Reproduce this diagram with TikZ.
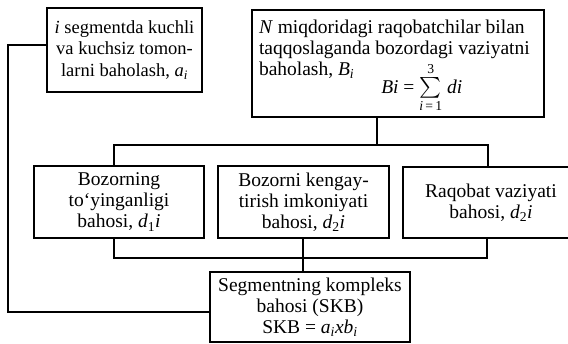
\documentclass[tikz,border=0pt]{standalone}
\usepackage{amsmath}
\usepackage{fontspec}
\setmainfont{Liberation Serif}
\usetikzlibrary{positioning,calc}

\begin{document}
\begin{tikzpicture}[
    x=1pt, y=-1pt,
    font=\fontsize{19.5pt}{21pt}\selectfont,
    blackline/.style={-, draw=black, line width=2pt},
    segbox/.style={draw, rectangle, line width=2pt, inner sep=0pt, align=center, minimum width=155pt, minimum height=84pt, font=\fontsize{18.5pt}{21.5pt}\selectfont},
    marketbox/.style={draw, rectangle, line width=2pt, inner sep=0pt, minimum width=292pt, minimum height=107pt},
    midbox/.style={draw, rectangle, line width=2pt, inner sep=0pt, align=center, minimum height=72pt}
]
\useasboundingbox (0,0) rectangle (568,343);

% top row
\node[segbox]    (segment) at (124.5,50) {\textit{i} segmentda kuchli\\va kuchsiz tomon-\\larni baholash, \textit{a}\textsubscript{\textit{i}}};
\node[marketbox] (market)  at (398,63.5) {\parbox[c][88pt][t]{278pt}{\raggedright
\textit{N} miqdoridagi raqobatchilar bilan\\
taqqoslaganda bozordagi vaziyatni\\
baholash, \textit{B}\textsubscript{\textit{i}}\hspace*{27pt}\smash{\raisebox{-18pt}{\textit{Bi} = $\sum\limits_{\text{\textit{i}\,=\,1}}^{\text{3}}$ \textit{di}}}}};

% middle row
\node[midbox, minimum width=170pt] (saturation) at (119,202)   {Bozorning\\to‘yinganligi\\bahosi, \textit{d}\textsubscript{1}\textit{i}};
\node[midbox, minimum width=171pt] (expansion)  at (303.5,202) {Bozorni kengay-\\tirish imkoniyati\\bahosi, \textit{d}\textsubscript{2}\textit{i}};
\node[midbox, minimum width=176pt, minimum height=71pt] (rivalry) at (491,202.5) {Raqobat vaziyati\\bahosi, \textit{d}\textsubscript{2}\textit{i}};

% bottom
\node[midbox, minimum width=200pt, minimum height=70pt] (complex) at (310,307) {Segmentning kompleks\\bahosi (SKB)\\SKB = \textit{a}\textsubscript{\textit{i}}\textit{xb}\textsubscript{\textit{i}}};

% market -> saturation, rivalry
\coordinate (top_mid)   at (377,145);
\coordinate (top_left)  at (114,145);
\coordinate (top_right) at (488,145);
\draw[blackline] (market.south -| top_mid) -- (top_mid);
\draw[blackline] (saturation.north -| top_left) -- (top_left) -- (top_right) -- (rivalry.north -| top_right);

% middle row -> complex
\coordinate (low_left)  at (114,258);
\coordinate (low_mid)   at (303,258);
\coordinate (low_right) at (487,258);
\draw[blackline] (saturation.south -| low_left) -- (low_left) -- (low_right) -- (rivalry.south -| low_right);
\draw[blackline] (expansion.south -| low_mid) -- (low_mid) -- (complex.north -| low_mid);

% segment -> complex (left side)
\coordinate (side_up)   at (8,45);
\coordinate (side_down) at (8,312);
\draw[blackline] (segment.west |- side_up) -- (side_up) -- (side_down) -- (complex.west |- side_down);

\end{tikzpicture}
\end{document}
